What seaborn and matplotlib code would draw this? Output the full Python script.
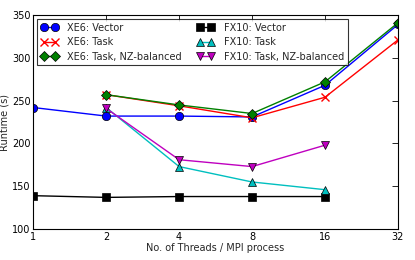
import pandas as pd
import seaborn as sns
import matplotlib.pyplot as plt
from matplotlib.ticker import FixedLocator, FixedFormatter, NullLocator

# Data
threads = [1, 2, 4, 8, 16, 32]
xe6_vector = [242, 232, 232, 231, 268, 339]
xe6_task = [None, 257, 244, 230, 254, 321]
xe6_task_nz = [None, 257, 245, 235, 272, 341]
fx10_vector = [139, 137, 138, 138, 138, None]
fx10_task = [None, 242, 173, 155, 146, None]
fx10_task_nz = [None, 241, 181, 173, 198, None]

series = [
    ("XE6: Vector", xe6_vector, "b", "o"),
    ("XE6: Task", xe6_task, "r", "x"),
    ("XE6: Task, NZ-balanced", xe6_task_nz, "g", "D"),
    ("FX10: Vector", fx10_vector, "k", "s"),
    ("FX10: Task", fx10_task, "c", "^"),
    ("FX10: Task, NZ-balanced", fx10_task_nz, "m", "v"),
]

sns.set_style("white")
plt.rcParams["font.family"] = ["DejaVu Sans"]
plt.rcParams["font.size"] = 7

fig, ax = plt.subplots(figsize=(4.15, 2.6), dpi=100)

for label, values, color, marker in series:
    df = pd.DataFrame({"x": threads, "y": values}).dropna()
    sns.lineplot(
        data=df,
        x="x",
        y="y",
        ax=ax,
        color=color,
        marker=marker,
        markersize=6 if marker != "D" else 5.5,
        markeredgecolor=color if marker == "x" else "black",
        markeredgewidth=1 if marker == "x" else 0.5,
        linewidth=1,
        label=label,
    )

ax.set_xscale("log", base=2)
ax.set_xlim(1, 32)
ax.set_ylim(100, 350)
ax.xaxis.set_major_locator(FixedLocator(threads))
ax.xaxis.set_major_formatter(FixedFormatter([str(t) for t in threads]))
ax.xaxis.set_minor_locator(NullLocator())
ax.set_yticks([100, 150, 200, 250, 300, 350])
ax.tick_params(direction="in", top=True, right=True, length=4, width=0.6,
               labelsize=7, pad=2, colors="black")
for sp in ax.spines.values():
    sp.set_color("black")
    sp.set_linewidth(0.8)

ax.set_xlabel("No. of Threads / MPI process", fontsize=7, labelpad=1)
ax.set_ylabel("Runtime (s)", fontsize=7, labelpad=2)

legend = ax.legend(loc="upper left", ncol=2, fontsize=7, frameon=True,
                   fancybox=False, borderpad=0.4, labelspacing=0.45,
                   numpoints=2, handlelength=1.7, handletextpad=1.0,
                   columnspacing=1.6, borderaxespad=0.4)
legend.get_frame().set_edgecolor("black")
legend.get_frame().set_linewidth(0.8)

fig.subplots_adjust(left=0.08, right=0.959, bottom=0.119, top=0.942)
fig.savefig("out.png", dpi=100)
